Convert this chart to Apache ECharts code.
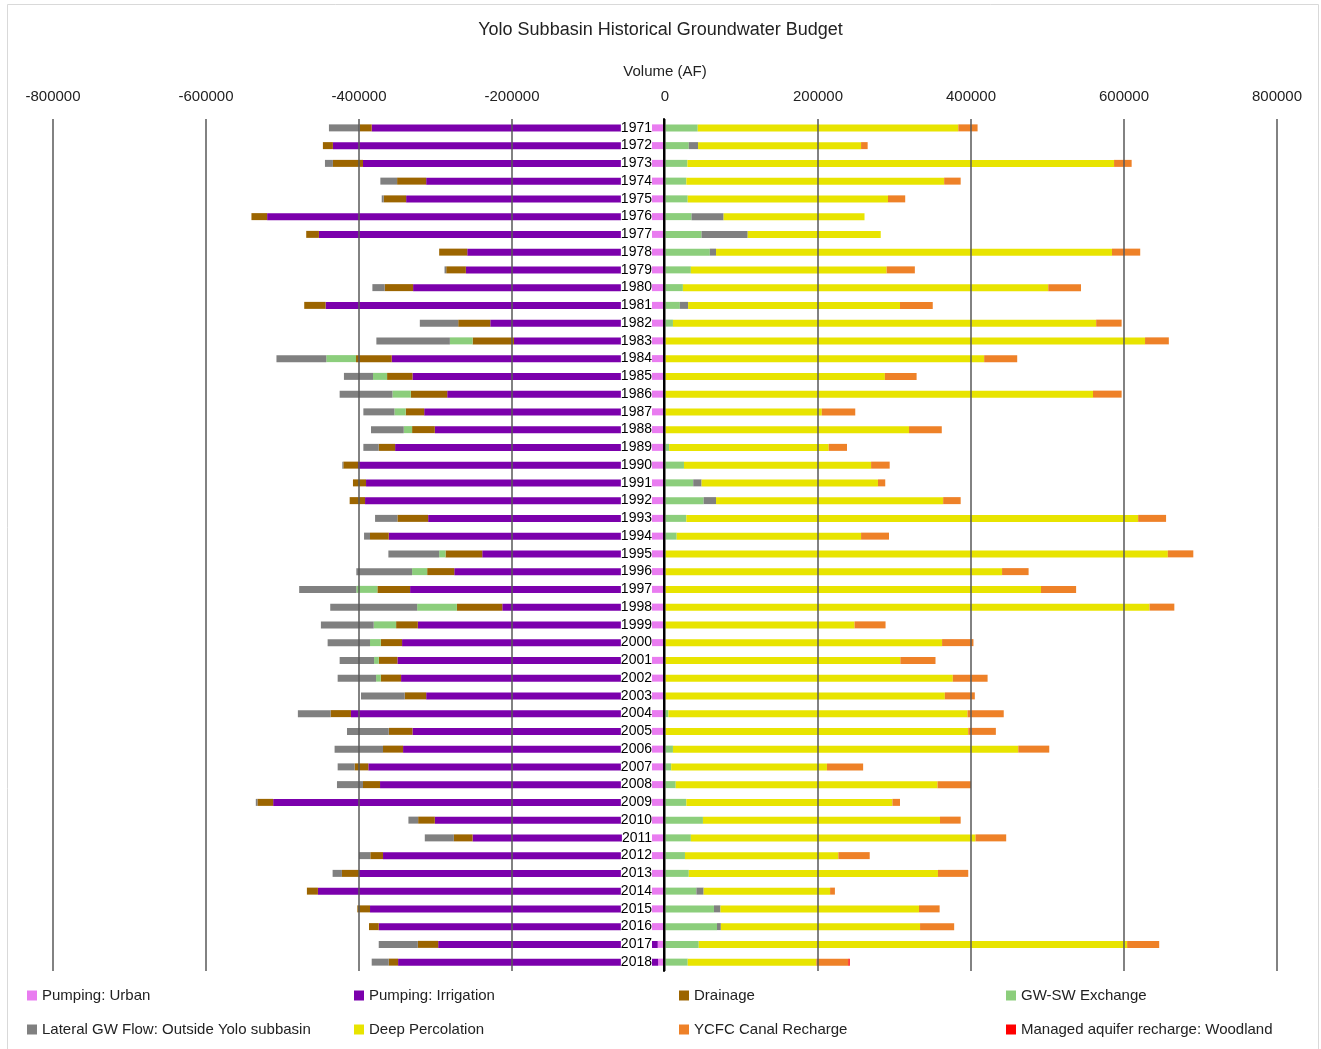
<!DOCTYPE html>
<html>
<head>
<meta charset="utf-8">
<title>Yolo Subbasin Historical Groundwater Budget</title>
<script src="https://cdn.jsdelivr.net/npm/echarts@6/dist/echarts.min.js"></script>
<style>
  html, body { margin: 0; padding: 0; background: #fff; }
  #chart { width: 1321px; height: 1049px; }
</style>
</head>
<body>
<div id="chart"></div>
<script>
// water years, top to bottom
var years = ['1971', '1972', '1973', '1974', '1975', '1976', '1977', '1978', '1979', '1980',
  '1981', '1982', '1983', '1984', '1985', '1986', '1987', '1988', '1989', '1990',
  '1991', '1992', '1993', '1994', '1995', '1996', '1997', '1998', '1999', '2000',
  '2001', '2002', '2003', '2004', '2005', '2006', '2007', '2008', '2009', '2010',
  '2011', '2012', '2013', '2014', '2015', '2016', '2017', '2018']

// outflows (negative), AF
var urban = [-18000, -18000, -18000, -18000, -18000, -18000, -18000, -18000, -18000, -18000,
  -18000, -18000, -18000, -18000, -18000, -18000, -18000, -18000, -18000, -18000,
  -18000, -18000, -18000, -18000, -18000, -18000, -18000, -18000, -18000, -18000,
  -18000, -18000, -18000, -18000, -18000, -18000, -18000, -18000, -18000, -18000,
  -18000, -18000, -18000, -18000, -18000, -18000, -9500, -9000]
var irrigation = [-365400, -416100, -376800, -294200, -320400, -502100, -434400, -240500, -242300, -311300,
  -425700, -210400, -179400, -339200, -312100, -266700, -296800, -282900, -334800, -383300,
  -372800, -374100, -291600, -343100, -220900, -257500, -315200, -194700, -305100, -325700,
  -331800, -327000, -294200, -392500, -312100, -324400, -369800, -354500, -494200, -282900,
  -233500, -350600, -382000, -435700, -367600, -356200, -287000, -339900]
var drainage = [-15700, -13100, -39300, -38000, -29300, -20500, -16600, -36700, -25700, -37100,
  -27900, -41900, -54100, -46700, -33200, -47600, -24100, -29700, -21400, -19200,
  -17100, -20100, -40200, -24500, -48000, -35400, -42800, -59300, -28400, -27900,
  -24400, -26600, -28000, -26600, -31000, -26200, -17900, -22300, -20600, -21800,
  -24500, -16600, -22300, -14400, -16600, -12700, -26600, -12200]

// flows that change sign from year to year
var gwsw = [42800, 31100, 29300, 27900, 29700, 34700, 47800, 58600, 33800, 23400,
  19400, 10400, -29700, -38900, -18400, -24000, -14800, -10900, 5400, 24800,
  36900, 50500, 27900, 15300, -8300, -19700, -27500, -52000, -29300, -14000,
  -6100, -6100, 0, 4500, 0, 10400, 8100, 14000, 27900, 49600,
  33800, 26100, 31100, 41000, 64000, 68000, 44100, 29700]
var lateral = [-40200, 12100, -10400, -21900, -2600, 41900, 60300, 8100, -2200, -16100,
  10800, -50200, -96100, -65100, -38000, -69000, -40600, -42800, -20100, -1300,
  10900, 16200, -29200, -7800, -66400, -72900, -74700, -113600, -69000, -55400,
  -45000, -50200, -57200, -42800, -54600, -63300, -22200, -34000, -2100, -12700,
  -38000, -14800, -12200, 9500, 8500, 5000, -51100, -22300]

// inflows (positive), AF
var deepPerc = [340600, 213100, 557700, 337000, 261800, 184200, 173900, 517600, 255900, 477600,
  277000, 553200, 627500, 417200, 287400, 559500, 205000, 319000, 208600, 244600,
  230600, 296900, 590600, 241000, 657300, 440600, 491500, 633400, 247800, 362200,
  307700, 376200, 365800, 391000, 396400, 451400, 203600, 342300, 269400, 309900,
  372100, 200500, 325700, 165300, 259500, 260400, 560000, 168100]
var ycfc = [25200, 8600, 23000, 21600, 22500, 0, 0, 36900, 36900, 42800,
  42800, 33300, 31100, 43200, 41500, 37400, 43700, 42800, 23900, 24300,
  9500, 22900, 36500, 36500, 33300, 34700, 45900, 32400, 40500, 41000,
  45900, 45500, 39200, 47300, 36100, 40500, 47300, 43700, 9900, 27000,
  40100, 41000, 39600, 6300, 27000, 44600, 41900, 41900]
var managed = [0, 0, 0, 0, 0, 0, 0, 0, 0, 0,
  0, 0, 0, 0, 0, 0, 0, 0, 0, 0,
  0, 0, 0, 0, 0, 0, 0, 0, 0, 0,
  0, 0, 0, 0, 0, 0, 0, 0, 0, 0,
  0, 0, 0, 0, 0, 0, 0, 1800]

var ticks = [-800000, -600000, -400000, -200000, 0, 200000, 400000, 600000, 800000]

var font = 'Liberation Sans'

var seriesDefs = [
  { name: 'Pumping: Urban', data: urban, color: '#e97cf0' },
  { name: 'Pumping: Irrigation', data: irrigation, color: '#7b00ac' },
  { name: 'Drainage', data: drainage, color: '#9c6500' },
  { name: 'GW-SW Exchange', data: gwsw, color: '#8cce7c' },
  { name: 'Lateral GW Flow: Outside Yolo subbasin', data: lateral, color: '#808080' },
  { name: 'Deep Percolation', data: deepPerc, color: '#e8e400' },
  { name: 'YCFC Canal Recharge', data: ycfc, color: '#ee8128' },
  { name: 'Managed aquifer recharge: Woodland', data: managed, color: '#ff0000' }
]

var series = seriesDefs.map(function (s) {
  return {
    name: s.name,
    type: 'bar',
    stack: 'budget',
    barWidth: 7,
    itemStyle: { color: s.color },
    data: s.data
  }
})

// one legend per entry so the 4 columns line up like the original
var legendCols = [22, 349, 674, 1001]
var legendRows = [983, 1017]
var legends = seriesDefs.map(function (s, i) {
  return {
    data: [s.name],
    icon: 'rect',
    itemWidth: 10,
    itemHeight: 10,
    itemGap: 5,
    left: legendCols[i % 4],
    top: legendRows[Math.floor(i / 4)],
    textStyle: { fontFamily: font, fontSize: 15, color: '#222' }
  }
})

var chart = echarts.init(document.getElementById('chart'))
chart.setOption({
  backgroundColor: '#fff',
  animation: false,
  title: {
    text: 'Yolo Subbasin Historical Groundwater Budget',
    left: 'center',
    top: 16,
    textStyle: { fontFamily: font, fontSize: 18, fontWeight: 'normal', color: '#222' }
  },
  legend: legends,
  graphic: [{
    type: 'rect',
    shape: { x: 7.5, y: 4.5, width: 1311, height: 1060 },
    style: { fill: 'none', stroke: '#d9d9d9', lineWidth: 1 },
    silent: true
  }],
  grid: { left: 53, right: 44, top: 119, bottom: 78 },
  xAxis: {
    type: 'value',
    position: 'top',
    min: ticks[0],
    max: ticks[ticks.length - 1],
    interval: 200000,
    z: 3,
    name: 'Volume (AF)',
    nameLocation: 'middle',
    nameGap: 40,
    nameTextStyle: { fontFamily: font, fontSize: 15, color: '#222' },
    axisLine: { show: false },
    axisTick: { show: false },
    axisLabel: {
      fontFamily: font, fontSize: 15, color: '#222', margin: 15,
      formatter: function (v) { return String(v) }
    },
    splitLine: { show: true, lineStyle: { color: '#595959', width: 1.5 } }
  },
  yAxis: {
    type: 'category',
    inverse: true,
    data: years,
    z: 10,
    // put the year axis on the zero line
    offset: -611,
    axisLine: { show: true, onZero: false, lineStyle: { color: '#000', width: 2 } },
    axisTick: { show: false },
    axisLabel: {
      interval: 0,
      fontFamily: font,
      fontSize: 14,
      color: '#000',
      margin: 12,
      backgroundColor: '#fff',
      padding: [1, 0]
    }
  },
  series: series
})
</script>
</body>
</html>
